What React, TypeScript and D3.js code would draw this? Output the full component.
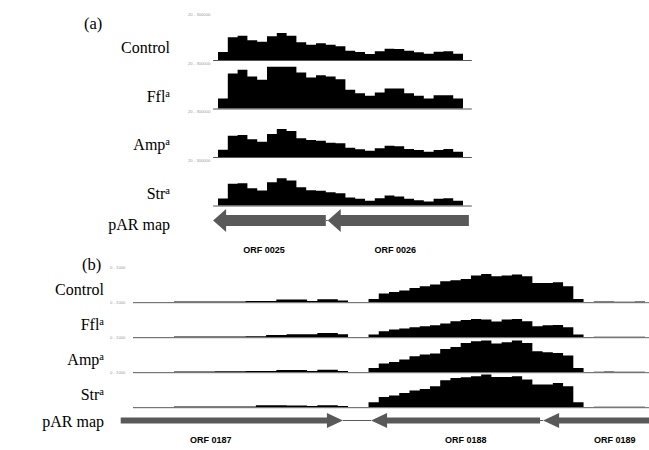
import React from 'react';
import * as d3 from 'd3';

const W = 649;
const H = 450;

// track names, superscripts
const trackNames = ['Control', 'Ffl', 'Amp', 'Str'];
const trackSups = ['', 'a', 'a', 'a'];

// panel (a): coverage per 100 bp bin
const controlA = [8, 22.7, 24.3, 19.7, 18.3, 23.7, 27, 24.3, 17.7, 15.3, 16.7, 15.3, 13.7, 9.3, 8, 6, 8.7, 11.3, 11, 9.3, 7.7, 6.3, 8.3, 8.7, 6.3];
const fflA = [10, 35, 38.7, 32, 28.7, 41.7, 41.7, 41.7, 36, 31, 33.3, 32, 29.3, 18.7, 15.3, 12.7, 16, 20, 20, 15.3, 12.7, 10, 13.3, 13.3, 10];
const ampA = [7.3, 21.3, 22, 17.7, 15.3, 23, 28, 26, 18.7, 17, 16.3, 14.3, 13.7, 9.3, 7.7, 6.3, 8.7, 11.3, 10.7, 8, 7, 5.3, 7, 8, 5.3];
const strA = [7, 21.7, 22.3, 17.3, 15, 23.3, 27.3, 25, 18.3, 15.3, 14.7, 13.3, 12.3, 8, 6.7, 4.7, 7.3, 10, 9, 6.7, 5.3, 4, 6.7, 7.3, 4.7];

// panel (b): coverage per 100 bp bin
const controlB = [0.3, 0.3, 0.3, 0.3, 0.6, 0.6, 0.6, 0.6, 0.6, 0.6, 0.8, 1.2, 1.2, 1.2, 2.7, 2.7, 2.7, 1.2, 3, 3, 1.6, 0.2, 0.2,
  3.3, 8.7, 10.3, 11.7, 14.3, 16, 17.7, 21, 22, 23.3, 26.7, 28.3, 26, 26.7, 27.7, 26, 19.3, 19.3, 20, 16, 3.3,
  0.3, 0.7, 0.7, 0.4, 0.4, 0.7];
const fflB = [0.3, 0.3, 0.3, 0.3, 0.6, 0.6, 0.6, 0.6, 0.6, 0.6, 0.8, 1, 1, 2.2, 2.2, 3, 3, 3, 4.3, 4.3, 3, 0.2, 0.2,
  2.7, 6, 7.7, 8.7, 10, 11, 12, 13.7, 16, 17.3, 18.3, 17.7, 15.7, 17.7, 18.3, 16, 11, 12, 12.3, 10, 2.7,
  0.3, 0.5, 0.5, 0.4, 0.4, 0.4];
const ampB = [0.3, 0.3, 0.3, 0.3, 0.6, 0.6, 0.6, 0.6, 1, 1, 1, 1.1, 1.1, 1.1, 2.2, 2.2, 2.2, 1.2, 2.5, 2.5, 1.2, 0.2, 0.2,
  4.3, 8.7, 10.3, 12.7, 16, 17.7, 18.7, 23.3, 25.3, 29.3, 31, 31.7, 28.7, 30, 31.7, 29.3, 21, 20, 19.3, 16.7, 4.3,
  0.3, 0.5, 0.6, 0.4, 0.4, 0.4];
const strB = [0.3, 0.3, 0.3, 0.3, 0.6, 0.6, 0.6, 0.6, 0.6, 0.6, 0.6, 0.6, 1.9, 1.9, 1.9, 1.6, 1.6, 1.1, 1.9, 1.9, 1.2, 0.2, 0.2,
  5, 10.3, 11.7, 14.3, 16.7, 18.3, 21, 27, 29.3, 30, 31, 32.7, 30.3, 30.3, 31, 27.7, 22.7, 22.7, 24.3, 21, 5,
  0.3, 0.4, 0.4, 0.4, 0.4, 0.4];

// gene maps (bp)
const genesA = ['ORF 0025', 'ORF 0026'];
const geneStartA = [-50, 1120];
const geneEndA = [1100, 2560];
const geneStrandA = [-1, -1];
const geneLabelA = [470, 1810];

const genesB = ['ORF 0187', 'ORF 0188', 'ORF 0189'];
const geneStartB = [-120, 2325, 4005];
const geneEndB = [2050, 3975, 5150];
const geneStrandB = [1, -1, -1];
const geneLabelB = [760, 3250, 4705];

const BIN = 100;
const serif = '"Liberation Serif", "Times New Roman", serif';
const sans = '"Liberation Sans", Arial, sans-serif';
const arrowColor = '#595959';

function arrowPoints(x0: number, x1: number, strand: number, cy: number, sh: number, hh: number, hl: number) {
  let pts;
  if (strand > 0) {
    const b = x1 - hl;
    pts = [[x0, cy - sh], [b, cy - sh], [b, cy - hh], [x1, cy], [b, cy + hh], [b, cy + sh], [x0, cy + sh]];
  } else {
    const b = x0 + hl;
    pts = [[x1, cy - sh], [b, cy - sh], [b, cy - hh], [x0, cy], [b, cy + hh], [b, cy + sh], [x1, cy + sh]];
  }
  return pts.map(p => p.join(',')).join(' ');
}

function Panel(props: any) {
  const { tag, tagX, tagY, series, x, y, base0, step, labelX, labelDy, scaleX, scaleText, scaleDy,
    lineFrom, lineTo, lineColor, mapY, mapLabelY, genes, starts, ends, strands, labelPos,
    sh, hh, hl, orfY } = props;
  const bases = series.map((_: number[], i: number) => base0 + i * step);
  return (
    <g>
      <text x={tagX} y={tagY} fontFamily={serif} fontSize={16.5}>{tag}</text>
      {series.map((vals: number[], i: number) => {
        const base = bases[i];
        const pts = vals.concat([vals[vals.length - 1]]);
        const area = d3.area<number>()
          .x((_, j) => x(j * BIN))
          .y0(base)
          .y1(d => base - y(d))
          .curve(d3.curveStepAfter);
        return (
          <g key={i}>
            <text x={scaleX} y={base + scaleDy} fontFamily={sans} fontSize={4.2} fill="#999">{scaleText}</text>
            <path d={area(pts) || ''} fill="#000" />
            <line x1={x(lineFrom)} x2={Math.min(W, x(lineTo))} y1={base + 0.5} y2={base + 0.5} stroke={lineColor} strokeWidth={1} />
            <text x={labelX} y={base + labelDy} textAnchor="end" fontFamily={serif} fontSize={16}>
              {trackNames[i]}
              {trackSups[i] ? <tspan fontSize={10.5} dy={-5}>{trackSups[i]}</tspan> : null}
            </text>
          </g>
        );
      })}
      <text x={labelX} y={mapLabelY} textAnchor="end" fontFamily={serif} fontSize={16}>pAR map</text>
      {genes.map((g: string, i: number) => (
        i < genes.length - 1 && starts[i + 1] > ends[i] ?
          <line key={'c' + i} x1={x(ends[i])} x2={x(starts[i + 1])} y1={mapY} y2={mapY} stroke={arrowColor} strokeWidth={1} /> : null
      ))}
      {genes.map((g: string, i: number) => (
        <g key={g}>
          <polygon points={arrowPoints(x(starts[i]), x(ends[i]), strands[i], mapY, sh, hh, hl)} fill={arrowColor} />
          <text x={x(labelPos[i])} y={orfY} textAnchor="middle" fontFamily={sans} fontWeight="bold" fontSize={9}>{g}</text>
        </g>
      ))}
    </g>
  );
}

export default function App() {
  const xA = d3.scaleLinear().domain([0, 2500]).range([218, 463]);
  const yA = d3.scaleLinear().domain([0, 45]).range([0, 45]);
  const xB = d3.scaleLinear().domain([0, 5000]).range([133, 645]);
  const yB = d3.scaleLinear().domain([0, 35]).range([0, 35]);
  return (
    <div style={{ position: 'absolute', left: 0, top: 0 }}>
      <svg width={W} height={H} style={{ display: 'block', background: '#fff' }}>
        <Panel tag="(a)" tagX={84} tagY={29} series={[controlA, fflA, ampA, strA]} x={xA} y={yA}
          base0={60} step={48.5} labelX={170} labelDy={-7} scaleX={188} scaleText="20 - 300000" scaleDy={-44}
          lineFrom={-50} lineTo={2590} lineColor="#555" mapY={220.5} mapLabelY={230}
          genes={genesA} starts={geneStartA} ends={geneEndA} strands={geneStrandA} labelPos={geneLabelA}
          sh={5.5} hh={11.5} hl={13} orfY={253} />
        <Panel tag="(b)" tagX={82} tagY={270} series={[controlB, fflB, ampB, strB]} x={xB} y={yB}
          base0={302.2} step={35} labelX={104} labelDy={-7} scaleX={110} scaleText="0 - 1000" scaleDy={-33}
          lineFrom={0} lineTo={5100} lineColor="#666" mapY={420.5} mapLabelY={427}
          genes={genesB} starts={geneStartB} ends={geneEndB} strands={geneStrandB} labelPos={geneLabelB}
          sh={3} hh={7.5} hl={16} orfY={443} />
      </svg>
    </div>
  );
}
